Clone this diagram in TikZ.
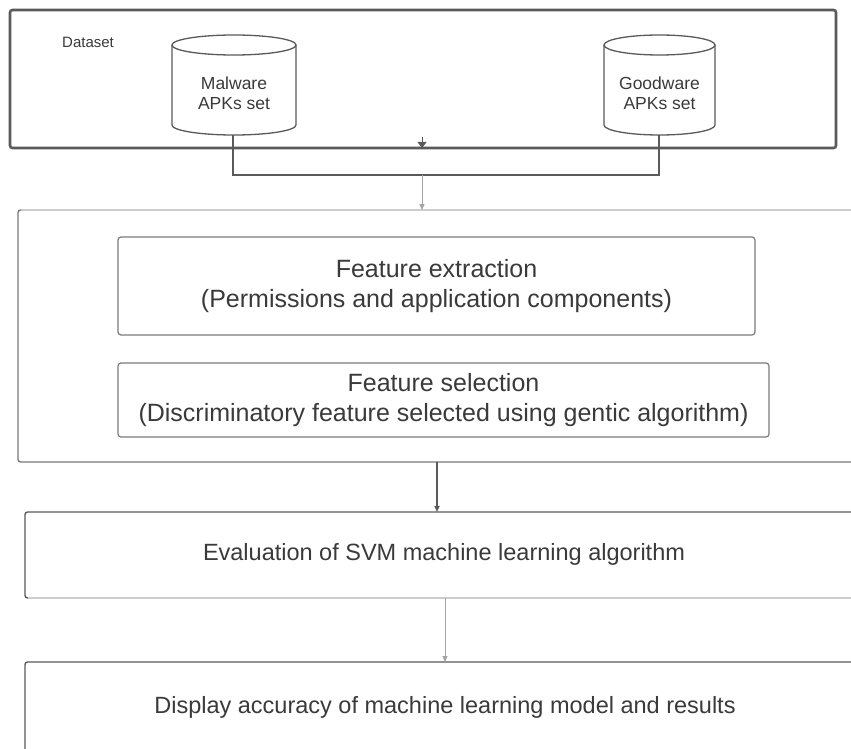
\documentclass[tikz,border=0pt]{standalone}
\usepackage{fontspec}
\setmainfont{Liberation Sans}
\usetikzlibrary{arrows.meta}
\definecolor{dk}{HTML}{5A5A5A}
\definecolor{md}{HTML}{7A7A7A}
\definecolor{lt}{HTML}{CDCDCD}
\definecolor{tx}{HTML}{3A3A3A}
\begin{document}
\begin{tikzpicture}[x=1pt,y=1pt,
  frame/.style={anchor=north west, inner sep=0pt, outer sep=0pt, draw=md, line width=1.4pt, rounded corners=2.5pt},
  inbox/.style={inner sep=0pt, outer sep=0pt, draw=md, line width=1.2pt, rounded corners=3pt, align=center, text=tx, font=\fontsize{25}{30}\selectfont},
  lbl/.style={text=tx, align=center, inner sep=0pt, font=\fontsize{23.5}{30}\selectfont},
  cyltext/.style={text=tx, align=center, inner sep=0pt, font=\fontsize{17.5}{20}\selectfont},
  cylline/.style={draw=dk, line width=1.3pt},
  link/.style={draw=dk, line width=2.6pt},
  darr/.style={draw=dk, line width=1.5pt, -{Triangle[length=6pt,width=5pt]}},
  larr/.style={draw=lt!80!black, line width=1pt, -{Triangle[length=6pt,width=5pt]}}
]
\useasboundingbox (0,0) rectangle (851,-749);
\fill[white] (0,0) rectangle (851,-749);

% Dataset frame
\node[frame, draw=dk, line width=2.6pt, minimum width=826pt, minimum height=138pt] (ds) at (10,-10) {};
\node[anchor=west, text=tx, inner sep=0pt, font=\fontsize{15}{18}\selectfont] (dslbl) at (62,-42) {Dataset};

% Malware cylinder
\draw[cylline] (234,-45) ellipse [x radius=62, y radius=10];
\draw[cylline] (172,-45) -- (172,-125) arc[start angle=180, end angle=360, x radius=62, y radius=10] -- (296,-45);
\node[cyltext] (mw) at (234,-93) {Malware\\APKs set};
\coordinate (mwb) at (233,-135);

% Goodware cylinder
\draw[cylline] (659.5,-45) ellipse [x radius=55.5, y radius=10];
\draw[cylline] (604,-45) -- (604,-125) arc[start angle=180, end angle=360, x radius=55.5, y radius=10] -- (715,-45);
\node[cyltext] (gw) at (659.5,-93) {Goodware\\APKs set};
\coordinate (gwb) at (659,-135);

% join
\coordinate (jn) at (422,-175);
\coordinate (tk) at (422,-137);
\draw[link] (mwb) |- (jn) -| (gwb);
\draw[draw=dk, line width=1pt, -{Triangle[length=6pt,width=9pt]}] (tk) -- (tk |- ds.south);

% Processing container
\node[frame, minimum width=860pt, minimum height=252pt] (cont) at (18,-210) {};
\draw[lt, line width=2.4pt] ([xshift=3pt]cont.north west) -- (cont.north east);
\draw[larr] (jn) -- (jn |- cont.north);

\node[inbox, minimum width=637pt, minimum height=98pt] (fe) at (436.5,-286) {Feature extraction\\(Permissions and application components)};
\node[inbox, minimum width=651pt, minimum height=74pt] (fs) at (443.5,-400) {Feature selection\\(Discriminatory feature selected using gentic algorithm)};

% Evaluation
\node[frame, draw=dk, minimum width=860pt, minimum height=86pt] (ev) at (25,-512) {};
\draw[lt, line width=2.4pt] ([xshift=3pt]ev.south west) -- (ev.south east);
\node[lbl] (evt) at (444,-554) {Evaluation of SVM machine learning algorithm};

% Display
\node[frame, draw=dk, minimum width=860pt, minimum height=120pt] (dp) at (25,-662) {};
\node[lbl] (dpt) at (445,-707) {Display accuracy of machine learning model and results};

% arrows between stages
\draw[darr] (437,0 |- cont.south) -- (437,0 |- ev.north);
\draw[larr] (445,0 |- ev.south) -- (445,0 |- dp.north);
\end{tikzpicture}
\end{document}
